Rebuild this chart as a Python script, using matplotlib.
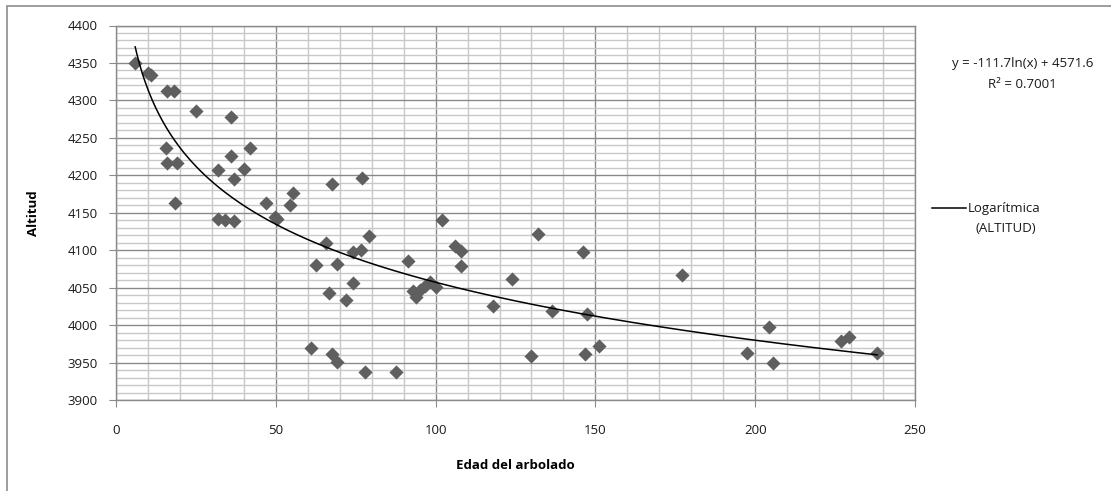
import numpy as np
import matplotlib
matplotlib.use("Agg")
import matplotlib.pyplot as plt
from matplotlib.ticker import MultipleLocator
from matplotlib.patches import Rectangle

# ---- data ----
edad = [6, 10, 11, 16, 18, 25, 36, 15.5, 36, 42, 16, 19, 32, 40, 37, 67.5, 77,
        18.6, 47, 55.5, 54.5, 32, 34, 37, 49.7, 50.3, 65.6, 79.3, 74, 76.7,
        62.6, 69, 74.3, 66.5, 72, 61, 67.7, 69, 78, 87.6, 91.5, 93, 94, 95,
        96.7, 98.2, 100, 102, 106, 108, 108, 124, 118, 132, 130, 136.3, 146,
        147.3, 146.7, 151, 177, 204.4, 197.5, 205.7, 226.7, 229.3, 238.2]
altitud = [4350, 4336, 4334, 4312, 4312, 4286, 4278, 4237, 4226, 4237, 4217,
           4216, 4207, 4208, 4195, 4189, 4197, 4163, 4163, 4176, 4161, 4141,
           4140, 4139, 4144, 4142, 4109, 4119, 4098, 4100, 4080, 4081, 4056,
           4043, 4034, 3970, 3961, 3951, 3938, 3938, 4086, 4045, 4038, 4047,
           4052, 4057, 4051, 4140, 4106, 4099, 4079, 4062, 4025, 4122, 3959,
           4019, 4098, 4015, 3961, 3972, 4067, 3998, 3963, 3950, 3979, 3984,
           3963]
coef_a = -111.7
coef_b = 4571.6
r2 = 0.7001
x_ticks = [0, 50, 100, 150, 200, 250]
y_ticks = [3900, 3950, 4000, 4050, 4100, 4150, 4200, 4250, 4300, 4350, 4400]

plt.rcParams['font.family'] = ['Open Sans', 'DejaVu Sans']

W, H = 1111, 491
fig = plt.figure(figsize=(W / 100, H / 100), dpi=100)

# outer chart border
fig.patches.append(Rectangle((7 / W, 1 - 497 / H), (1120 - 7) / W, (497 - 6) / H,
                             transform=fig.transFigure, fill=False,
                             edgecolor='#8c8c8c', linewidth=1.2))

ax = fig.add_axes([116 / W, 1 - 400 / H, (915 - 116) / W, (400 - 25.5) / H])
ax.set_xlim(0, 250)
ax.set_ylim(3900, 4400)

ax.xaxis.set_minor_locator(MultipleLocator(10))
ax.yaxis.set_minor_locator(MultipleLocator(10))
ax.set_xticks(x_ticks)
ax.set_yticks(y_ticks)

ax.grid(which='minor', color='#c8c8c8', linewidth=1.0)
ax.grid(which='major', color='#8a8a8a', linewidth=1.0)
ax.set_axisbelow(True)
for s in ax.spines.values():
    s.set_color('#8a8a8a')
    s.set_linewidth(1.0)

ax.tick_params(which='major', direction='out', length=5, color='#8a8a8a',
               labelsize=9.5, labelcolor='#1a1a1a')
ax.tick_params(axis='x', which='major', pad=12)
ax.tick_params(axis='y', which='major', pad=8)
ax.tick_params(which='minor', length=0)

ax.scatter(edad, altitud, marker='D', s=52, color='#5f5f5f', zorder=3,
           linewidths=0)

xs = np.linspace(min(edad), max(edad), 400)
ax.plot(xs, coef_a * np.log(xs) + coef_b, color='#000000', linewidth=1.1,
        zorder=4)

ax.set_xlabel('Edad del arbolado', fontsize=9.5, fontweight='bold', labelpad=16)
ax.set_ylabel('Altitud', fontsize=9.5, fontweight='bold', labelpad=20)

# equation text
fig.text(1023 / W, 1 - 64 / H, 'y = -111.7ln(x) + 4571.6', ha='center',
         va='center', fontsize=9.5, color='#1a1a1a')
fig.text(1022 / W, 1 - 84 / H, 'R² = 0.7001', ha='center', va='center',
         fontsize=9.5, color='#1a1a1a')

# legend
fig.lines.append(plt.Line2D([932 / W, 966 / W], [1 - 208 / H, 1 - 208 / H],
                            transform=fig.transFigure, color='black',
                            linewidth=1.1))
fig.text(968 / W, 1 - 208 / H, 'Logarítmica', ha='left', va='center',
         fontsize=9.5, color='#1a1a1a')
fig.text(1006 / W, 1 - 228 / H, '(ALTITUD)', ha='center', va='center',
         fontsize=9.5, color='#1a1a1a')

fig.savefig('out.png', dpi=100)
